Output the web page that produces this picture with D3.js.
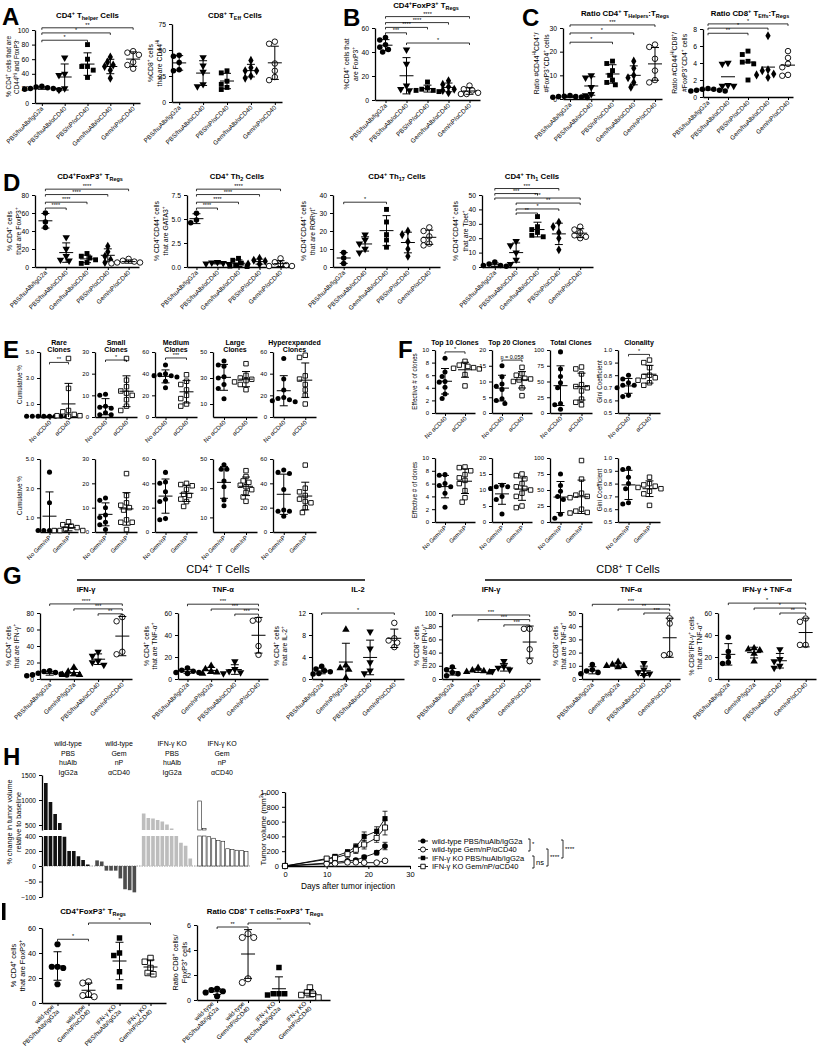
<!doctype html>
<html>
<head>
<meta charset="utf-8">
<title>Immune profiling figure</title>
<script src="https://d3js.org/d3.v7.min.js"></script>
<style>
  body { margin: 0; background: #fff; }
  text { font-family: "Liberation Sans", Arial, Helvetica, sans-serif; fill: #000; }
</style>
</head>
<body>
<div id="fig"></div>
<script>
// ---------- category labels ----------
const catsA = ['PBS/huAlb/IgG2a', 'PBS/huAlb/αCD40', 'PBS/nP/αCD40', 'Gem/huAlb/αCD40', 'Gem/nP/αCD40'];
const catsD = ['PBS/huAlb/IgG2a', 'PBS/huAlb/αCD40', 'Gem/huAlb/αCD40', 'PBS/nP/αCD40', 'Gem/nP/αCD40'];
const catsG = ['PBS/huAlb/IgG2a', 'Gem/nP/IgG2a', 'PBS/huAlb/αCD40', 'Gem/nP/αCD40'];
const catsEtop = ['No αCD40', 'αCD40'];
const catsEbot = ['No Gem/nP', 'Gem/nP'];
const catsI = [['wild-type', 'PBS/huAlb/IgG2a'], ['wild-type', 'Gem/nP/αCD40'], ['IFN-γ KO', 'PBS/huAlb/IgG2a'], ['IFN-γ KO', 'Gem/nP/αCD40']];

// ---------- A ----------
const aThelper = [[20, 22, 18, 21, 23, 19, 20], [62, 40, 38, 18, 20], [80, 60, 50, 50, 45, 35], [63, 56, 52, 50, 45, 34], [71, 69, 66, 56, 52, 47]];
const aTeff = [[45, 44, 38, 30, 31], [43, 35, 29, 17, 15], [30, 28, 20, 17, 14, 12], [40, 33, 30, 30, 25, 23], [58, 56, 37, 30, 24, 21]];
// ---------- B ----------
const bTreg = [[52, 50, 46, 44, 40, 42], [42, 30, 12, 9, 8], [15, 10, 9, 8, 8, 7], [16, 13, 11, 9, 8, 6], [12, 9, 8, 6, 5, 5]];
// ---------- C ----------
const cHelperRatio = [[1.5, 1.2, 1, 0.8, 0.6, 0.7, 1.0], [10, 9, 5, 2, 1.5], [16, 15, 12, 10, 8, 6, 7], [16, 13, 10, 9, 7, 5], [23, 22, 17, 12, 8, 7]];
const cEffRatio = [[1, 0.9, 0.8, 0.7, 0.8, 0.9, 0.7], [4, 3.9, 1.4, 1.3, 1.3], [5.4, 5.0, 4.2, 4.1, 3.9, 2.0], [7.2, 3.2, 3.1, 2.7, 2.6, 2.3], [5.4, 4.6, 3.9, 3.5, 2.6, 2.5]];
// ---------- D ----------
const dTreg = [[60, 50, 44], [33, 20, 12, 8, 7], [15, 12, 10, 8, 5, 4], [23, 17, 12, 8, 5], [9, 7, 6, 5, 5, 4]];
const dTh2 = [[5.6, 4.9, 4.6], [0.5, 0.45, 0.4, 0.3, 0.35], [0.9, 0.7, 0.4, 0.2, 0.1, 0.05], [0.9, 0.7, 0.6, 0.3, 0.3], [0.9, 0.5, 0.3, 0.2, 0.1, 0.1]];
const dTh17 = [[8, 5, 2], [18, 15, 13, 10, 8], [32, 25, 18, 15, 11], [20, 18, 14, 10, 6], [22, 20, 17, 15, 13, 12]];
const dTh1 = [[3.5, 2, 1, 1, 0.5], [18, 15, 10, 5, 2], [35, 28, 26, 24, 22, 21], [31, 28, 24, 20, 12], [28, 26, 24, 22, 21, 20]];
// ---------- E (no vs yes) ----------
const eRareCD40 = [[0.05, 0.05, 0.05, 0.05, 0.05, 0.05, 0.05, 0.05], [4.5, 2.2, 0.5, 0.4, 0.2, 0.1, 0.1, 0.05]];
const eSmallCD40 = [[10.5, 10, 5, 4.5, 4, 2, 1, 1], [27, 17, 14, 12, 11, 10, 8, 5, 3]];
const eMediumCD40 = [[48, 40, 39, 38, 38, 37, 33, 27], [39, 33, 30, 25, 20, 17, 12, 10]];
const eLargeCD40 = [[43, 40, 39, 31, 30, 25, 22, 14], [41, 32, 30, 29, 28, 27, 25, 21]];
const eHyperCD40 = [[54, 35, 25, 18, 17, 16, 15, 14], [57, 55, 38, 35, 30, 25, 20, 12]];
const eRareGem = [[4.1, 2.0, 0.1, 0.1, 0.1, 0.1], [0.7, 0.5, 0.4, 0.3, 0.2, 0.1, 0.1, 0.1]];
const eSmallGem = [[14, 13, 10, 7, 6, 4, 3, 1], [24, 15, 12, 11, 10, 9, 5, 4, 4, 1]];
const eMediumGem = [[49, 41, 40, 33, 27, 25, 11, 10], [40, 39, 38, 35, 31, 30, 27, 25, 21]];
const eLargeGem = [[46, 43, 43, 35, 31, 22, 18], [42, 38, 35, 34, 32, 31, 29, 27, 24, 21]];
const eHyperGem = [[51, 49, 48, 35, 18, 17, 17, 13], [55, 36, 33, 30, 27, 25, 24, 20, 16]];
// ---------- F ----------
const fTop10CD40 = [[8.7, 6.5, 5.8, 5.0, 4.9, 4.1, 3.0, 2.3], [8.2, 7.6, 7.4, 7.2, 7.1, 7.0, 6.1, 4.3]];
const fTop20CD40 = [[15, 11.5, 9.2, 8.5, 7.5, 4.5, 4, 3], [14.5, 12.5, 12, 11, 10.8, 10.5, 10, 8, 5.5]];
const fTotalCD40 = [[97, 70, 58, 48, 40, 15, 13, 6], [73, 70, 62, 45, 42, 40, 35, 22, 17, 13]];
const fGiniCD40 = [[0.80, 0.77, 0.74, 0.72, 0.72, 0.70, 0.64, 0.63], [0.92, 0.90, 0.86, 0.80, 0.79, 0.78, 0.76, 0.74, 0.72]];
const fTop10Gem = [[7.4, 7.3, 6.0, 5.7, 5.5, 4.5, 2.3], [8.6, 8.5, 8.0, 7.4, 6.9, 6.5, 6.0, 4.9, 3.8, 3.1]];
const fTop20Gem = [[11.5, 11, 11, 10.5, 8, 7, 2.5], [15, 14.5, 13.5, 12, 11, 10.5, 10, 9, 8, 5, 4.5]];
const fTotalGem = [[75, 57, 48, 40, 35, 12, 6], [96, 67, 45, 42, 40, 38, 20, 17, 15, 14]];
const fGiniGem = [[0.92, 0.91, 0.85, 0.80, 0.76, 0.65, 0.64], [0.85, 0.80, 0.79, 0.78, 0.77, 0.76, 0.74, 0.72, 0.63]];
// ---------- G ----------
const gCD4ifn = [[10, 9, 8, 7, 6, 5, 5, 4], [14, 9, 6, 5, 5], [33, 28, 22, 20, 17], [75, 70, 33, 30]];
const gCD4tnf = [[10, 8, 7, 6, 6, 5], [12, 9, 7, 6, 5], [16, 9, 7, 6, 5], [54, 53, 30, 22]];
const gCD4il2 = [[2.3, 1.8, 1.5, 1.3, 1.0, 0.9], [9, 2.5, 2.0, 1.7, 0.2], [8.6, 5.5, 3, 1.5, 1], [10.2, 7.4, 7.0, 6.6, 5.8]];
const gCD8ifn = [[18, 14, 10, 8, 5], [17, 13, 12, 11, 10], [27, 19, 17, 14, 12], [76, 76, 45, 27]];
const gCD8tnf = [[11, 7, 6, 5, 4], [13, 11, 10, 10, 9], [12, 7, 5, 4, 3], [46, 42, 19, 18]];
const gCD8both = [[38, 25, 20, 15, 14], [28, 27, 26, 23, 16], [27, 18, 16, 12, 10], [55, 52, 31, 31]];
// ---------- H ----------
const wfWtPBS = [1340, 960, 720, 540, 390, 200, 200, 130, 80, 20];
const wfWtGem = [75, 60, -15, -15, -15, -40, -75, -78, -85];
const wfKoPBS = [730, 640, 630, 600, 570, 510, 430, 400, 310, 270, 100];
const wfKoGem = [980, 430, 390, 370, 340, 330, 230, 220, 210, 205, 195];
const wfHeaders = [['wild-type', 'PBS', 'huAlb', 'IgG2a'], ['wild-type', 'Gem', 'nP', 'αCD40'], ['IFN-γ KO', 'PBS', 'huAlb', 'IgG2a'], ['IFN-γ KO', 'Gem', 'nP', 'αCD40']];
const days = [0, 10, 12, 15, 17, 19, 22, 24];
const tvWtPBS = [0, 40, 50, 70, 80, 120, 180, 270];
const tvWtGem = [0, 30, 35, 50, 50, 45, 45, 70];
const tvKoPBS = [0, 90, 130, 190, 260, 400, 470, 640];
const tvKoGem = [0, 100, 110, 160, 220, 290, 380, 520];
const errWtPBS = [0, 10, 10, 15, 20, 25, 30, 50];
const errWtGem = [0, 8, 8, 10, 10, 10, 10, 15];
const errKoPBS = [0, 20, 25, 30, 40, 60, 60, 100];
const errKoGem = [0, 25, 30, 40, 50, 60, 60, 100];
const tvNames = ['wild-type PBS/huAlb/IgG2a', 'wild-type Gem/nP/αCD40', 'IFN-γ KO PBS/huAlb/IgG2a', 'IFN-γ KO Gem/nP/αCD40'];
// ---------- I ----------
const iTreg = [[47, 29, 28, 29, 15], [17, 16, 7, 5, 6], [52, 40, 38, 25, 13], [36, 33, 28, 24, 23]];
const iRatio = [[0.9, 0.8, 0.7, 0.6, 0.3], [5.3, 5.0, 5.0, 1.7, 1.4], [2.6, 0.5, 0.5, 0.5, 0.4], [1.0, 0.6, 0.5, 0.4, 0.2]];

const svg = d3.select('#fig').append('svg').attr('width', 821).attr('height', 1050);
svg.append('rect').attr('width', 821).attr('height', 1050).attr('fill', '#fff');

// text with ^{sup} and _{sub}
function rich(t, s, fs) {
  const parts = s.split(/(\^\{[^}]*\}|_\{[^}]*\})/).filter(p => p.length);
  let shift = 0;
  for (const p of parts) {
    let txt = p, target = 0, small = false;
    if (p.startsWith('^{')) { txt = p.slice(2, -1); target = -0.38 * fs; small = true; }
    else if (p.startsWith('_{')) { txt = p.slice(2, -1); target = 0.28 * fs; small = true; }
    const ts = t.append('tspan').text(txt);
    if (target - shift) ts.attr('dy', target - shift);
    if (small) ts.attr('font-size', fs * 0.7);
    shift = target;
  }
  return t;
}
function txt(parent, x, y, s, fs, anchor = 'middle', weight = 'normal', rot = 0) {
  const t = parent.append('text').attr('font-size', fs).attr('text-anchor', anchor).attr('font-weight', weight);
  if (rot) t.attr('transform', `translate(${x},${y}) rotate(${rot})`);
  else t.attr('x', x).attr('y', y);
  return rich(t, s, fs);
}

const SYM = { c: d3.symbolCircle, oc: d3.symbolCircle, s: d3.symbolSquare, os: d3.symbolSquare,
  tu: d3.symbolTriangle, td: d3.symbolTriangle, d: d3.symbolDiamond };
function marker(g, shape, x, y, size = 24) {
  const open = shape[0] === 'o';
  g.append('path').attr('d', d3.symbol().type(SYM[shape]).size(size)())
    .attr('transform', `translate(${x},${y})${shape === 'td' ? ' rotate(180)' : ''}`)
    .attr('fill', open ? '#fff' : '#000').attr('stroke', '#000').attr('stroke-width', open ? 0.9 : 0);
}

// spread points of one group sideways so they do not overlap
function swarm(vals, ys, d) {
  const pts = vals.map(v => ({ v, y: ys(v) })).sort((a, b) => a.y - b.y);
  const placed = [];
  for (const p of pts) {
    for (let k = 0; k < 24; k++) {
      const off = k === 0 ? 0 : (k % 2 ? -1 : 1) * Math.ceil(k / 2) * d * 0.55;
      if (placed.every(q => Math.hypot(q.dx - off, q.y - p.y) >= d)) { p.dx = off; break; }
    }
    if (p.dx === undefined) p.dx = 0;
    placed.push(p);
  }
  return pts;
}

function styleAxis(a, fs) {
  a.attr('font-size', fs).attr('font-family', '"Liberation Sans", Arial, sans-serif');
  a.select('.domain').attr('stroke', '#000').attr('stroke-width', 1.3);
  a.selectAll('.tick line').attr('stroke', '#000').attr('stroke-width', 1);
  a.selectAll('.tick text').attr('fill', '#000');
}

function dotPlot(p) {
  const g = svg.append('g');
  const n = p.data.length;
  const xs = d3.scalePoint().domain(d3.range(n)).range(p.x).padding(p.pad ?? 0.45);
  const ys = d3.scaleLinear().domain(p.dom).range([p.y[1], p.y[0]]);
  const ya = g.append('g').attr('transform', `translate(${p.x[0]},0)`)
    .call(d3.axisLeft(ys).tickValues(p.ticks).tickFormat(d3.format(p.fmt || 'd')).tickSize(3).tickSizeOuter(0));
  styleAxis(ya, p.tfs || 6.8);
  const xa = g.append('g').attr('transform', `translate(0,${p.y[1]})`)
    .call(d3.axisBottom(xs).tickFormat('').tickSize(3).tickSizeOuter(0));
  styleAxis(xa, 6);
  const cfs = p.cfs || 6.3;
  p.cats.forEach((c, i) => {
    const lines = Array.isArray(c) ? c : [c];
    const off = lines.length > 1 ? 9 : 6;
    const t = g.append('text').attr('transform', `translate(${xs(i) + 2},${p.y[1] + off}) rotate(-45)`)
      .attr('text-anchor', 'end').attr('font-size', cfs);
    lines.forEach((l, k) => t.append('tspan').attr('x', 0)
      .attr('dy', k ? cfs * 1.15 : -(lines.length - 1) * cfs * 1.15).text(l));
  });
  p.data.forEach((vals, i) => {
    const cx = xs(i);
    swarm(vals, ys, 5.2).forEach(q => marker(g, p.shapes[i], cx + q.dx, q.y, p.ms || 24));
    const m = d3.mean(vals), sd = d3.deviation(vals);
    const lw = 7;
    g.append('line').attr('x1', cx - lw).attr('x2', cx + lw).attr('y1', ys(m)).attr('y2', ys(m))
      .attr('stroke', '#000').attr('stroke-width', 1);
    if (p.sd !== false) {
      const lo = ys(Math.max(p.dom[0], m - sd)), hi = ys(m + sd);
      g.append('path').attr('d', `M${cx},${lo}V${hi}M${cx - 4},${hi}H${cx + 4}` + (m - sd > p.dom[0] ? `M${cx - 4},${lo}H${cx + 4}` : ''))
        .attr('stroke', '#000').attr('stroke-width', 1).attr('fill', 'none');
    }
  });
  (p.br || []).forEach(([i, j, lab, v]) => {
    const y = ys(v), x1 = xs(i), x2 = xs(j);
    g.append('path').attr('d', `M${x1},${y + 2}V${y}H${x2}V${y + 2}`).attr('fill', 'none')
      .attr('stroke', '#000').attr('stroke-width', 0.8);
    g.append('text').attr('x', (x1 + x2) / 2).attr('y', y - 1).attr('text-anchor', 'middle')
      .attr('font-size', 5.5).text(lab);
  });
  if (p.title) {
    const lines = Array.isArray(p.title) ? p.title : [p.title];
    lines.forEach((l, k) => txt(g, p.tx ?? (p.x[0] + p.x[1]) / 2, p.ty + k * 7.5, l, p.tls || 7.8, 'middle', 'bold'));
  }
  if (p.ylab) {
    const ls = p.ls || 8.5;
    p.ylab.forEach((l, k) => txt(g, p.yl + k * ls + 2.5, (p.y[0] + p.y[1]) / 2, l, p.yfs || 6.8, 'middle', 'normal', -90));
  }
  return { xs, ys };
}

function letter(x, y, s) {
  svg.append('text').attr('x', x).attr('y', y).attr('font-size', 24).attr('font-weight', 'bold').text(s);
}

const sh5 = ['c', 'td', 's', 'd', 'oc'];
const sh4G = ['c', 'tu', 'td', 'oc'];
const sh2 = ['c', 'os'];
const shI = ['c', 'oc', 's', 'os'];

// ---------- panel A ----------
letter(2, 25, 'A');
dotPlot({ x: [35, 140], y: [30, 103], dom: [0, 100], ticks: [0, 20, 40, 60, 80, 100], cats: catsA, data: aThelper, shapes: sh5, pad: 0.3,
  title: 'CD4^{+} T_{helper} Cells', ty: 18, ylab: ['% CD4^{+} cells that are', 'CD44^{Hi} and FoxP3^{-}'], yl: 8, ls: 8.5, yfs: 6.4,
  br: [[0, 4, '**', 103], [0, 3, '*', 96], [0, 2, '*', 86]] });
dotPlot({ x: [172, 282], y: [24, 102], dom: [0, 75], ticks: [0, 25, 50, 75], cats: catsA, data: aTeff, shapes: sh5, pad: 0.3,
  title: 'CD8^{+} T_{Eff} Cells', tx: 235, ty: 18, ylab: ['%CD8^{+} cells', 'that are  CD44^{Hi}'], yl: 150, ls: 9 });

// ---------- panel B ----------
letter(343, 26, 'B');
dotPlot({ x: [375, 480], y: [28, 100], dom: [0, 60], ticks: [0, 20, 40, 60], cats: catsA, data: bTreg, shapes: sh5, pad: 0.5,
  title: 'CD4^{+}FoxP3^{+} T_{Regs}', tx: 426, ty: 8, ylab: ['%CD4^{+} cells that', 'are FoxP3^{+}'], yl: 346, ls: 9,
  br: [[0, 4, '****', 69.5], [0, 3, '****', 64.5], [0, 2, '****', 60.5], [0, 1, '***', 56], [1, 4, '*', 47.5]] });

// ---------- panel C ----------
letter(522, 26, 'C');
dotPlot({ x: [563, 662], y: [28, 99], dom: [0, 30], ticks: [0, 10, 20, 30], cats: catsA, data: cHelperRatio, shapes: sh5, pad: 0.33,
  title: 'Ratio CD4^{+} T_{Helpers}:T_{Regs}', tx: 625, ty: 16, ylab: ['Ratio #CD44^{Hi}CD4^{+}/', '#FoxP3^{+}CD4^{+} cells'], yl: 536, ls: 10,
  br: [[0, 4, '***', 31.3], [0, 3, '*', 27.9], [0, 2, '*', 24]] });
dotPlot({ x: [703, 793], y: [29, 97], dom: [0, 8], ticks: [0, 2, 4, 6, 8], cats: catsA, data: cEffRatio, shapes: sh5, pad: 0.25, sd: false,
  title: 'Ratio CD8^{+} T_{Effs}:T_{Regs}', tx: 750, ty: 16, ylab: ['Ratio #CD44^{Hi}CD8^{+}/', '#FoxP3^{+}CD4^{+} cells'], yl: 674, ls: 10,
  br: [[0, 4, '*', 8.6], [0, 3, '*', 8.1], [0, 2, '**', 7.5]] });

// ---------- panel D ----------
letter(3, 191, 'D');
const brD = [[0, 4, '****', 86.5], [0, 3, '****', 80.5], [0, 2, '****', 72], [0, 1, '****', 65.5]];
dotPlot({ x: [35, 139], y: [195, 267], dom: [0, 80], ticks: [0, 20, 40, 60, 80], cats: catsD, data: dTreg, shapes: sh5, pad: 0.5,
  title: 'CD4^{+}FoxP3^{+} T_{Regs}', tx: 90, ty: 179, ylab: ['% CD4^{+} cells', 'that are FoxP3^{+}'], yl: 9, ls: 9, br: brD });
dotPlot({ x: [187, 290], y: [195, 267], dom: [0, 7.5], ticks: [0, 2.5, 5, 7.5], fmt: '.1f', cats: catsD, data: dTh2, shapes: sh5, pad: 0.45,
  title: 'CD4^{+} Th_{2} Cells', tx: 237, ty: 179, ylab: ['% CD4^{+}CD44^{+} cells', 'that are GATA3^{+}'], yl: 156, ls: 9,
  br: brD.map(b => [b[0], b[1], b[2], b[3] * 7.5 / 80]) });
dotPlot({ x: [333, 440], y: [195, 267], dom: [0, 40], ticks: [0, 10, 20, 30, 40], cats: catsD, data: dTh17, shapes: sh5, pad: 0.5,
  title: 'CD4^{+} Th_{17} Cells', tx: 397, ty: 179, ylab: ['% CD4^{+}CD44^{+} cells', 'that are RORγt^{+}'], yl: 303, ls: 9,
  br: [[0, 2, '*', 36]] });
dotPlot({ x: [482, 593], y: [195, 267], dom: [0, 50], ticks: [0, 10, 20, 30, 40, 50], cats: catsD, data: dTh1, shapes: sh5, pad: 0.6,
  title: 'CD4^{+} Th_{1} Cells', tx: 532, ty: 179, ylab: ['% CD4^{+}CD44^{+} cells', 'that are Tbet^{+}'], yl: 455, ls: 10,
  br: [[0, 3, '***', 54.5], [0, 2, '***', 51], [0, 4, '***', 47.9], [1, 4, '**', 44.4], [1, 3, '*', 40.3], [1, 2, '**', 37.5]] });

// ---------- panel E ----------
letter(3, 358, 'E');
const eCols = [[40, 78], [95, 137], [155, 197], [213, 257], [273, 316]];
const eTitles = [['Rare', 'Clones'], ['Small', 'Clones'], ['Medium', 'Clones'], ['Large', 'Clones'], ['Hyperexpanded', 'Clones']];
const eDoms = [[0, 5], [0, 30], [0, 60], [0, 50], [0, 60]];
const eTicks = [[1, 3, 5], [0, 10, 20, 30], [0, 20, 40, 60], [10, 30, 50], [0, 20, 40, 60]];
const eTop = [eRareCD40, eSmallCD40, eMediumCD40, eLargeCD40, eHyperCD40];
const eBot = [eRareGem, eSmallGem, eMediumGem, eLargeGem, eHyperGem];
const eBr = [[0, 1, '**', 4.2], [0, 1, '*', 26.3], [0, 1, '***', 54.5], null, null];
eCols.forEach((xr, k) => {
  dotPlot({ x: xr, y: [352, 417], dom: eDoms[k], ticks: eTicks[k], fmt: k === 0 ? '.1f' : 'd', cats: catsEtop, data: eTop[k], shapes: sh2, pad: 0.5,
    tfs: 6, cfs: 6, title: eTitles[k], ty: 344.5, tls: 7, ms: 20,
    ylab: k === 0 ? ['Cumulative %'] : null, yl: 19, yfs: 6.3, br: eBr[k] ? [eBr[k]] : [] });
  dotPlot({ x: xr, y: [459, 532], dom: eDoms[k], ticks: eTicks[k], fmt: k === 0 ? '.1f' : 'd', cats: catsEbot, data: eBot[k], shapes: sh2, pad: 0.5,
    tfs: 6, cfs: 6, ms: 20, ylab: k === 0 ? ['Cumulative %'] : null, yl: 19, yfs: 6.3 });
});

// ---------- panel F ----------
letter(398, 358, 'F');
const fCols = [[435, 475], [492, 532], [550, 592], [618, 660]];
const fTitles = ['Top 10 Clones', 'Top 20 Clones', 'Total Clones', 'Clonality'];
const fDoms = [[0, 10], [0, 20], [0, 100], [0.5, 1]];
const fTicks = [[0, 2, 4, 6, 8, 10], [0, 5, 10, 15, 20], [0, 25, 50, 75, 100], [0.5, 0.6, 0.7, 0.8, 0.9, 1.0]];
const fTop = [fTop10CD40, fTop20CD40, fTotalCD40, fGiniCD40];
const fBot = [fTop10Gem, fTop20Gem, fTotalGem, fGiniGem];
const fBr = [[0, 1, '*', 9.7], [0, 1, 'p = 0.058', 16.8], null, [0, 1, '*', 0.965]];
const fYlab = [['Effective # of clones'], null, null, ['Gini Coefficient']];
const fYl = [414, 0, 0, 599];
fCols.forEach((xr, k) => {
  dotPlot({ x: xr, y: [350, 413], dom: fDoms[k], ticks: fTicks[k], fmt: k === 3 ? '.1f' : 'd', cats: catsEtop, data: fTop[k], shapes: sh2, pad: 0.5,
    tfs: 6, cfs: 6, ms: 20, title: fTitles[k], ty: 345, tls: 7, ylab: fYlab[k], yl: fYl[k], yfs: 6.3, br: fBr[k] ? [fBr[k]] : [] });
  dotPlot({ x: xr, y: [458, 522], dom: fDoms[k], ticks: fTicks[k], fmt: k === 3 ? '.1f' : 'd', cats: catsEbot, data: fBot[k], shapes: sh2, pad: 0.5,
    tfs: 6, cfs: 6, ms: 20, ylab: fYlab[k], yl: fYl[k], yfs: 6.3 });
});

// ---------- panel G ----------
letter(3, 584, 'G');
txt(svg, 218, 573, 'CD4^{+} T Cells', 11);
svg.append('line').attr('x1', 77).attr('x2', 365).attr('y1', 580).attr('y2', 580).attr('stroke', '#000').attr('stroke-width', 1.5);
txt(svg, 628, 573, 'CD8^{+} T Cells', 11);
svg.append('line').attr('x1', 485).attr('x2', 792).attr('y1', 580).attr('y2', 580).attr('stroke', '#000').attr('stroke-width', 1.5);
const gY = [613, 679];
dotPlot({ x: [40, 132], y: gY, dom: [0, 80], ticks: [0, 20, 40, 60, 80], cats: catsG, data: gCD4ifn, shapes: sh4G, pad: 0.4,
  title: 'IFN-γ', ty: 592, tls: 7.5, ylab: ['% CD4^{+} cells', 'that are IFN-γ^{+}'], yl: 8, ls: 8.5,
  br: [[0, 3, '****', 91], [1, 3, '***', 85], [2, 3, '**', 79]] });
dotPlot({ x: [178, 268], y: gY, dom: [0, 60], ticks: [0, 20, 40, 60], cats: catsG, data: gCD4tnf, shapes: sh4G, pad: 0.4,
  title: 'TNF-α', ty: 592, tls: 7.5, ylab: ['% CD4^{+} cells', 'that are TNF-α^{+}'], yl: 146, ls: 8.5,
  br: [[0, 3, '***', 68], [1, 3, '***', 63.6], [2, 3, '***', 59]] });
dotPlot({ x: [312, 404], y: gY, dom: [0, 12], ticks: [0, 4, 8, 12], cats: catsG, data: gCD4il2, shapes: sh4G, pad: 0.4,
  title: 'IL-2', ty: 592, tls: 7.5, ylab: ['% CD4^{+} cells', 'that are IL-2^{+}'], yl: 276, ls: 8.5,
  br: [[0, 3, '*', 12]] });
dotPlot({ x: [442, 540], y: gY, dom: [0, 100], ticks: [0, 20, 40, 60, 80, 100], cats: catsG, data: gCD8ifn, shapes: sh4G, pad: 0.4,
  title: 'IFN-γ', ty: 592, tls: 7.5, ylab: ['% CD8^{+} cells', 'that are IFN-γ^{+}'], yl: 416, ls: 8.5,
  br: [[0, 3, '***', 97], [1, 3, '***', 90], [2, 3, '***', 82]] });
dotPlot({ x: [582, 680], y: gY, dom: [0, 50], ticks: [0, 10, 20, 30, 40, 50], cats: catsG, data: gCD8tnf, shapes: sh4G, pad: 0.4,
  title: 'TNF-α', ty: 592, tls: 7.5, ylab: ['% CD8^{+} cells', 'that are TNF-α^{+}'], yl: 555, ls: 8.5,
  br: [[0, 3, '***', 56.6], [1, 3, '**', 53], [2, 3, '***', 50]] });
dotPlot({ x: [718, 816], y: gY, dom: [0, 60], ticks: [0, 20, 40, 60], cats: catsG, data: gCD8both, shapes: sh4G, pad: 0.4,
  title: 'IFN-γ + TNF-α', ty: 592, tls: 7.5, ylab: ['% CD8^{+}IFN-γ^{+} cells', 'that are TNF-α^{+}'], yl: 691, ls: 8.5,
  br: [[0, 3, '*', 69], [1, 3, '*', 64.5], [2, 3, '**', 60]] });

// ---------- panel H : waterfall ----------
letter(3, 765, 'H');
const wf = svg.append('g');
const hdrX = [68, 119, 172, 222];
wfHeaders.forEach((lines, gi) => lines.forEach((l, k) =>
  wf.append('text').attr('x', hdrX[gi]).attr('y', 746 + k * 9.5).attr('text-anchor', 'middle').attr('font-size', 7).text(l)));
const wfSets = [wfWtPBS, wfWtGem, wfKoPBS, wfKoGem];
const wfFill = ['#111', '#4d4d4d', '#bdbdbd', '#fff'];
const keys = [], bars = [];
wfSets.forEach((arr, gi) => {
  if (gi) keys.push('gap' + gi);
  arr.forEach((v, i) => { const k = gi + '-' + i; keys.push(k); bars.push({ k, gi, v }); });
});
const xb = d3.scaleBand().domain(keys).range([44, 248]).paddingInner(0.22);
const yUp = d3.scaleLinear().domain([400, 1500]).range([830, 775]);
const yLow = d3.scaleLinear().domain([0, 400]).range([866, 836]);
const yNeg = d3.scaleLinear().domain([-100, 0]).range([897, 866]);
wf.append('line').attr('x1', 44).attr('x2', 250).attr('y1', yLow(0)).attr('y2', yLow(0))
  .attr('stroke', '#999').attr('stroke-width', 1.2).attr('stroke-dasharray', '1.5,1');
bars.forEach(b => {
  const x = xb(b.k), w = xb.bandwidth();
  const segs = [];
  if (b.v < 0) segs.push([yNeg(0), yNeg(b.v)]);
  else {
    segs.push([yLow(Math.min(b.v, 400)), yLow(0)]);
    if (b.v > 400) segs.push([yUp(b.v), yUp(400)]);
  }
  segs.forEach(([y1, y2]) => wf.append('rect').attr('x', x).attr('y', y1).attr('width', w).attr('height', Math.max(0.5, y2 - y1))
    .attr('fill', wfFill[b.gi]).attr('stroke', b.gi === 3 ? '#222' : 'none').attr('stroke-width', 0.6));
});
[[yUp, [500, 1000, 1500]], [yLow, [0, 200, 400]], [yNeg, [-50, -100]]].forEach(([sc, tv]) => {
  const a = wf.append('g').attr('transform', 'translate(42,0)')
    .call(d3.axisLeft(sc).tickValues(tv).tickFormat(d3.format('d')).tickSize(3).tickSizeOuter(0));
  styleAxis(a, 6.6);
});
txt(wf, 12, 822, '% change in tumor volume', 7.2, 'middle', 'normal', -90);
txt(wf, 21, 822, 'relative to baseline', 7.2, 'middle', 'normal', -90);

// ---------- panel H : growth curves ----------
const gc = svg.append('g');
const xl = d3.scaleLinear().domain([0, 30]).range([285, 410]);
const yl = d3.scaleLinear().domain([0, 1000]).range([866, 792]);
styleAxis(gc.append('g').attr('transform', 'translate(285,0)')
  .call(d3.axisLeft(yl).tickValues([0, 200, 400, 600, 800, 1000]).tickSize(3).tickSizeOuter(0)), 7.5);
styleAxis(gc.append('g').attr('transform', 'translate(0,866)')
  .call(d3.axisBottom(xl).tickValues([0, 10, 20, 30]).tickSize(3).tickSizeOuter(0)), 7.5);
txt(gc, 266, 829, 'Tumor volume (mm^{3})', 7.8, 'middle', 'normal', -90);
txt(gc, 348, 889, 'Days after tumor injection', 8.3);
const tvSets = [tvWtPBS, tvWtGem, tvKoPBS, tvKoGem];
const tvErr = [errWtPBS, errWtGem, errKoPBS, errKoGem];
const tvShape = ['c', 'oc', 's', 'os'];
tvSets.forEach((vals, si) => {
  const pts = days.map((d, i) => [xl(d), yl(vals[i])]);
  gc.append('path').attr('d', d3.line()(pts)).attr('fill', 'none').attr('stroke', '#000').attr('stroke-width', 0.9);
  days.forEach((d, i) => {
    if (!tvErr[si][i]) return;
    const x = xl(d), y1 = yl(vals[i] - tvErr[si][i]), y2 = yl(vals[i] + tvErr[si][i]);
    gc.append('path').attr('d', `M${x},${y1}V${y2}M${x - 2.5},${y2}H${x + 2.5}M${x - 2.5},${y1}H${x + 2.5}`)
      .attr('stroke', '#000').attr('stroke-width', 0.8).attr('fill', 'none');
  });
});
tvSets.forEach((vals, si) => days.forEach((d, i) => marker(gc, tvShape[si], xl(d), yl(vals[i]), 26)));
// legend
tvNames.forEach((name, i) => {
  const y = 841 + i * 8.5;
  gc.append('line').attr('x1', 418).attr('x2', 428).attr('y1', y).attr('y2', y).attr('stroke', '#000').attr('stroke-width', 0.9);
  marker(gc, tvShape[i], 423, y, 20);
  gc.append('text').attr('x', 432).attr('y', y + 2.6).attr('font-size', 7.5).text(name);
});
function rbr(x, y1, y2, lab, lx, ly) {
  gc.append('path').attr('d', `M${x - 2},${y1}H${x}V${y2}H${x - 2}`).attr('fill', 'none').attr('stroke', '#000').attr('stroke-width', 0.8);
  gc.append('text').attr('x', lx).attr('y', ly).attr('font-size', lab === 'ns' ? 7.5 : 6).text(lab);
}
rbr(530, 839, 851, '*', 532, 846);
rbr(534, 856, 868, 'ns', 536, 865);
rbr(548, 849, 866, '****', 550, 859);
rbr(563, 840, 858, '****', 565, 851);

// ---------- panel I ----------
svg.append('rect').attr('x', 2).attr('y', 903).attr('width', 3.5).attr('height', 17).attr('fill', '#000');
dotPlot({ x: [42, 166], y: [928, 1003], dom: [0, 60], ticks: [0, 20, 40, 60], cats: catsI, data: iTreg, shapes: shI, pad: 0.5,
  tfs: 7.2, cfs: 6.2, ms: 30, title: 'CD4^{+}FoxP3^{+} T_{Regs}', tx: 93, ty: 914, ylab: ['% CD4^{+} cells', 'that are FoxP3^{+}'], yl: 13, ls: 9.5, yfs: 7.4,
  br: [[0, 1, '*', 51], [1, 3, '*', 64]] });
dotPlot({ x: [197, 330], y: [925, 1000], dom: [0, 6], ticks: [0, 2, 4, 6], cats: catsI, data: iRatio, shapes: shI, pad: 0.65,
  tfs: 7.2, cfs: 6.2, ms: 30, title: 'Ratio CD8^{+} T cells:FoxP3^{+} T_{Regs}', tx: 265, ty: 914, ylab: ['Ratio CD8^{+} cells/', 'FoxP3^{+} cells'], yl: 175, ls: 9.5, yfs: 7.4,
  br: [[0, 1, '**', 5.84], [1, 3, '**', 6.16]] });
</script>
</body>
</html>
